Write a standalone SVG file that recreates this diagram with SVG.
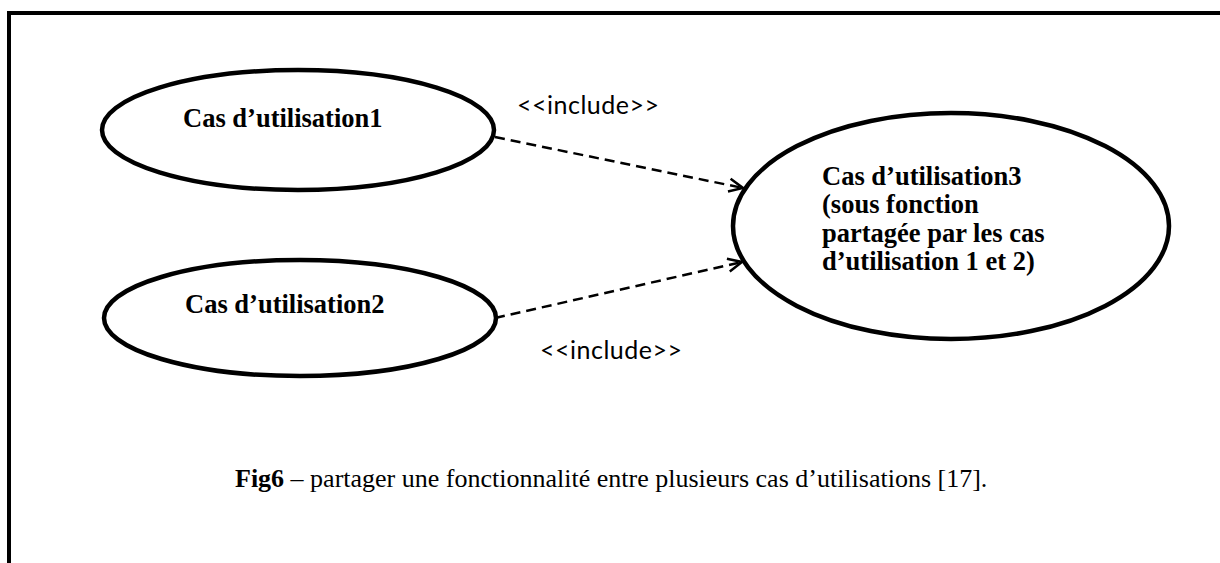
<svg xmlns="http://www.w3.org/2000/svg" width="1220" height="563" viewBox="0 0 1220 563">
  <style>
    .uc { fill: #fff; stroke: #000; stroke-width: 4.5; }
    .uct { font-family: "Liberation Serif", serif; font-weight: bold; font-size: 26.5px; fill: #000; }
    .lbl { font-family: Lato, "Open Sans", "Liberation Sans", sans-serif; font-size: 25px; fill: #000; }
    .dep { fill: none; stroke: #000; stroke-width: 2.5; stroke-dasharray: 10 6; }
    .cap { font-family: "Liberation Serif", serif; font-size: 26px; fill: #000; }
  </style>
  <defs>
    <marker id="open" viewBox="0 0 16 16" refX="15" refY="8" markerWidth="16" markerHeight="16" markerUnits="userSpaceOnUse" orient="auto">
      <path d="M1,1.5 L15,8 L1,14.5" fill="none" stroke="#000" stroke-width="2.5"/>
    </marker>
  </defs>
  <rect width="1220" height="563" fill="#fff"/>
  <!-- frame: only top and left edges fall inside the page -->
  <path d="M9,600 L9,13 L1230,13" fill="none" stroke="#000" stroke-width="4"/>

  <g id="uc1">
    <ellipse class="uc" cx="298" cy="130" rx="196" ry="60"/>
    <text class="uct" x="183" y="127">Cas d’utilisation1</text>
  </g>
  <g id="uc2">
    <ellipse class="uc" cx="300" cy="318" rx="196" ry="58"/>
    <text class="uct" x="185" y="313">Cas d’utilisation2</text>
  </g>
  <g id="uc3">
    <ellipse class="uc" cx="951" cy="226" rx="218" ry="113"/>
    <text class="uct" x="822" y="185">Cas d’utilisation3</text>
    <text class="uct" x="822" y="213">(sous fonction</text>
    <text class="uct" x="822" y="242">partagée par les cas</text>
    <text class="uct" x="822" y="270">d’utilisation 1 et 2)</text>
  </g>

  <g id="connectors">
    <line class="dep" x1="495" y1="137" x2="743" y2="188" marker-end="url(#open)"/>
    <line class="dep" x1="495" y1="318" x2="742" y2="262" marker-end="url(#open)"/>
    <text class="lbl" x="517" y="114" textLength="142">&lt;&lt;include&gt;&gt;</text>
    <text class="lbl" x="540" y="359" textLength="142">&lt;&lt;include&gt;&gt;</text>
  </g>

  <text class="cap" x="235" y="487"><tspan font-weight="bold">Fig6</tspan> – partager une fonctionnalité entre plusieurs cas d’utilisations [17].</text>
</svg>
